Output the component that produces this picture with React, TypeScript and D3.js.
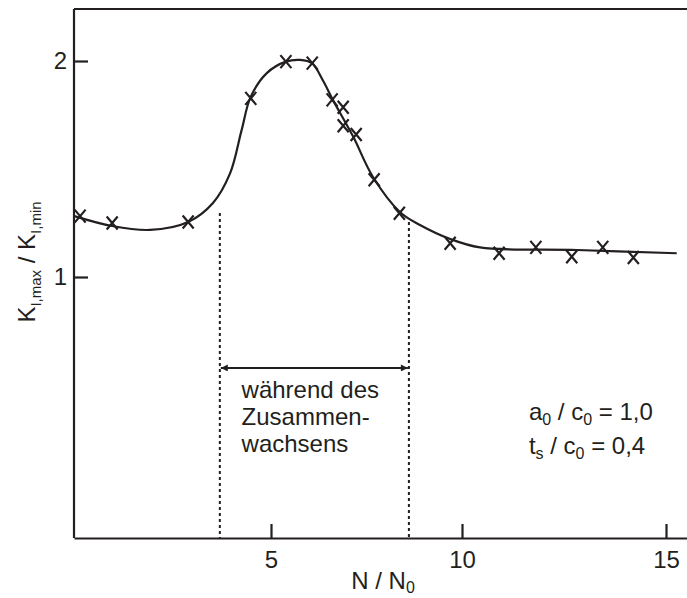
import React, { useRef, useEffect } from 'react';
import * as d3 from 'd3';

// measured points (N/N0, KI,max/KI,min)
const pointsX = [0.0, 0.84, 2.83, 4.47, 5.39, 6.08, 6.6, 6.89, 6.89, 7.23, 7.7, 8.36, 9.69, 10.91, 11.81, 12.69, 13.45, 14.2];
const pointsY = [1.282, 1.25, 1.255, 1.827, 1.997, 1.99, 1.82, 1.786, 1.7, 1.66, 1.45, 1.295, 1.156, 1.11, 1.137, 1.094, 1.137, 1.09];

// fitted curve
const curveX = [-0.15, 0.84, 1.83, 2.83, 3.48, 3.93, 4.23, 4.47, 4.89, 5.39, 5.76, 6.07, 6.36, 6.62, 7.15, 7.67, 8.38, 8.9, 9.69, 10.44, 12.82, 15.26];
const curveY = [1.282, 1.236, 1.218, 1.255, 1.343, 1.481, 1.68, 1.835, 1.944, 1.997, 2.005, 1.99, 1.91, 1.82, 1.65, 1.463, 1.3, 1.241, 1.176, 1.137, 1.125, 1.11];

const xTicks = [5, 10, 15];
const yTicks = [1, 2];

// coalescence range
const rangeStart = 3.66;
const rangeEnd = 8.61;
const rangeTopY = [1.296, 1.255];
const rangeLabel = ['während des', 'Zusammen-', 'wachsens'];

const ink = '#231f20';
const font = '"Liberation Sans", Arial, sans-serif';

export default function App() {
  const xAxisRef = useRef<SVGGElement>(null);
  const yAxisRef = useRef<SVGGElement>(null);

  const x = d3.scaleLinear().domain([-0.16, 5, 10, 15, 15.51]).range([74, 271, 462, 666, 687]);
  const y = d3.scaleLinear().domain([1, 2]).range([277, 61]);
  const yMin = y.invert(538);
  const yMax = y.invert(9);

  useEffect(() => {
    const xa = d3.select(xAxisRef.current);
    xa.call(d3.axisBottom(x).tickValues(xTicks).tickFormat(d3.format('d')).tickSizeInner(-14).tickSizeOuter(0).tickPadding(13) as any);
    xa.selectAll('path,line').attr('stroke', ink).attr('stroke-width', 2.2);
    xa.selectAll('text').attr('font-size', 24).attr('font-family', font).attr('fill', ink);

    const ya = d3.select(yAxisRef.current);
    ya.call(d3.axisLeft(y).tickValues(yTicks).tickFormat(d3.format('d')).tickSizeInner(-14).tickSizeOuter(0).tickPadding(7) as any);
    ya.select('.domain').remove();
    ya.selectAll('line').attr('stroke', ink).attr('stroke-width', 2.2);
    ya.selectAll('text').attr('font-size', 24).attr('font-family', font).attr('fill', ink);
  }, []);

  const line = d3.line<number>()
    .x((_, i) => x(curveX[i]))
    .y(d => y(d))
    .curve(d3.curveCatmullRom.alpha(0.5));

  const arrowY = y(0.579);

  return (
    <svg width={687} height={598} style={{ position: 'absolute', left: 0, top: 0 }} fontFamily={font}>
      <defs>
        <marker id="ah" viewBox="0 0 10 10" refX="10" refY="5" markerWidth="11" markerHeight="7" markerUnits="userSpaceOnUse" orient="auto-start-reverse">
          <path d="M0,0L10,5L0,10z" fill={ink} />
        </marker>
      </defs>

      {/* frame: left axis line and top line */}
      <line x1={x(-0.16)} x2={x(-0.16)} y1={y(yMax)} y2={y(yMin)} stroke={ink} strokeWidth={2.2} />
      <line x1={x(-0.16)} x2={x(15.51)} y1={y(yMax)} y2={y(yMax)} stroke={ink} strokeWidth={2.2} />
      <g ref={xAxisRef} transform={`translate(0,${y(yMin)})`} />
      <g ref={yAxisRef} transform={`translate(${x(-0.16)},0)`} />

      {/* dashed limits */}
      {[rangeStart, rangeEnd].map((v, i) => (
        <line key={i} x1={x(v)} x2={x(v)} y1={y(rangeTopY[i])} y2={y(yMin)} stroke={ink} strokeWidth={2} strokeDasharray="3,3" />
      ))}
      <line x1={x(rangeStart) + 1} x2={x(rangeEnd) - 1} y1={arrowY} y2={arrowY} stroke={ink} strokeWidth={2}
        markerStart="url(#ah)" markerEnd="url(#ah)" />
      <text x={x(4.23)} y={arrowY + 30} fontSize={24} fill={ink}>
        {rangeLabel.map((t, i) => (
          <tspan key={i} x={x(4.23)} dy={i === 0 ? 0 : 27}>{t}</tspan>
        ))}
      </text>

      {/* curve */}
      <path d={line(curveY) || ''} fill="none" stroke={ink} strokeWidth={2.2} />

      {/* markers */}
      {pointsX.map((px, i) => {
        const cx = x(px), cy = y(pointsY[i]);
        return (
          <path key={i} d={`M${cx - 5.5},${cy - 6.5}L${cx + 5.5},${cy + 6.5}M${cx + 5.5},${cy - 6.5}L${cx - 5.5},${cy + 6.5}`}
            stroke={ink} strokeWidth={2.2} fill="none" />
        );
      })}

      {/* parameters */}
      <text x={x(11.64)} y={y(0.338)} fontSize={24} fill={ink}>
        a<tspan fontSize={16} dy={5}>0</tspan><tspan dy={-5}> / c</tspan><tspan fontSize={16} dy={5}>0</tspan><tspan dy={-5}> = 1,0</tspan>
      </text>
      <text x={x(11.64)} y={y(0.181)} fontSize={24} fill={ink}>
        t<tspan fontSize={16} dy={5}>s</tspan><tspan dy={-5}> / c</tspan><tspan fontSize={16} dy={5}>0</tspan><tspan dy={-5}> = 0,4</tspan>
      </text>

      {/* axis titles */}
      <text x={383} y={589} fontSize={24} fill={ink} textAnchor="middle">
        N / N<tspan fontSize={16} dy={4}>0</tspan>
      </text>
      <text transform="translate(35,262) rotate(-90)" fontSize={24} fill={ink} textAnchor="middle">
        K<tspan fontSize={15} dy={6}>I,max</tspan><tspan dy={-6}> / K</tspan><tspan fontSize={15} dy={6}>I,min</tspan>
      </text>
    </svg>
  );
}
